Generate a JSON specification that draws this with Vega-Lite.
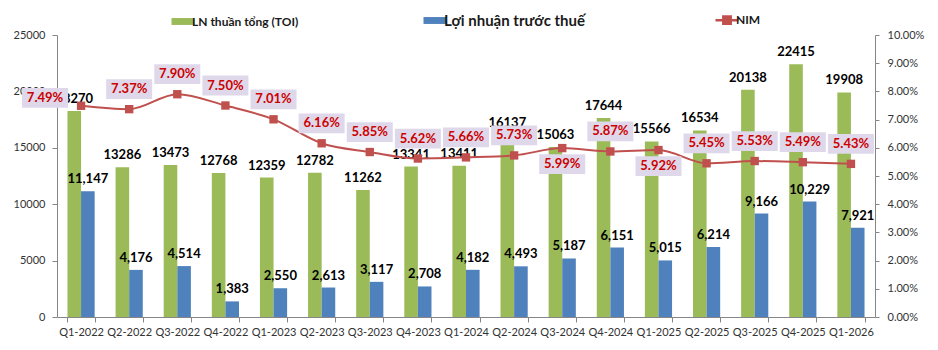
{
  "$schema": "https://vega.github.io/schema/vega-lite/v6.json",
  "width": 818,
  "height": 282,
  "autosize": {"type": "none"},
  "padding": {"left": 57, "top": 35, "right": 63, "bottom": 33},
  "background": "#ffffff",
  "data": {
    "values": [
      {"q": "Q1-2022", "toi": 18270, "pbt": 11147, "nim": 0.0749},
      {"q": "Q2-2022", "toi": 13286, "pbt": 4176, "nim": 0.0737},
      {"q": "Q3-2022", "toi": 13473, "pbt": 4514, "nim": 0.0790},
      {"q": "Q4-2022", "toi": 12768, "pbt": 1383, "nim": 0.0750},
      {"q": "Q1-2023", "toi": 12359, "pbt": 2550, "nim": 0.0701},
      {"q": "Q2-2023", "toi": 12782, "pbt": 2613, "nim": 0.0616},
      {"q": "Q3-2023", "toi": 11262, "pbt": 3117, "nim": 0.0585},
      {"q": "Q4-2023", "toi": 13341, "pbt": 2708, "nim": 0.0562},
      {"q": "Q1-2024", "toi": 13411, "pbt": 4182, "nim": 0.0566},
      {"q": "Q2-2024", "toi": 16137, "pbt": 4493, "nim": 0.0573},
      {"q": "Q3-2024", "toi": 15063, "pbt": 5187, "nim": 0.0599},
      {"q": "Q4-2024", "toi": 17644, "pbt": 6151, "nim": 0.0587},
      {"q": "Q1-2025", "toi": 15566, "pbt": 5015, "nim": 0.0592},
      {"q": "Q2-2025", "toi": 16534, "pbt": 6214, "nim": 0.0545},
      {"q": "Q3-2025", "toi": 20138, "pbt": 9166, "nim": 0.0553},
      {"q": "Q4-2025", "toi": 22415, "pbt": 10229, "nim": 0.0549},
      {"q": "Q1-2026", "toi": 19908, "pbt": 7921, "nim": 0.0543}
    ]
  },
  "encoding": {
    "x": {
      "field": "q", "type": "ordinal", "sort": null,
      "scale": {"paddingInner": 0.435, "paddingOuter": 0.2175},
      "axis": {"title": null, "labelAngle": 0, "tickBand": "extent", "tickSize": 5, "labelPadding": 4, "labelFontSize": 11}
    }
  },
  "layer": [
    {
      "transform": [{"fold": ["toi", "pbt"], "as": ["key", "value"]}],
      "encoding": {
        "y": {
          "field": "value", "type": "quantitative",
          "scale": {"domain": [0, 25000], "nice": false},
          "axis": {"title": null, "values": [0, 5000, 10000, 15000, 20000, 25000], "format": "d", "tickSize": 5, "labelPadding": 7, "labelFontSize": 11}
        },
        "xOffset": {"field": "key", "type": "nominal", "sort": ["toi", "pbt"]},
        "color": {
          "field": "key", "type": "nominal",
          "scale": {"domain": ["toi", "pbt", "nim"], "range": ["#9BBB59", "#4F81BD", "#C0504D"]},
          "legend": {
            "orient": "none", "legendX": 120, "legendY": -21, "direction": "horizontal", "title": null,
            "labelExpr": "datum.value == 'toi' ? 'LN thuần tổng (TOI)' : datum.value == 'pbt' ? 'Lợi nhuận trước thuế' : 'NIM'",
            "symbolSize": 529, "columnPadding": 124, "labelOffset": 3,
            "labelFont": "Lato", "labelFontWeight": "bold", "labelFontSize": 12, "labelColor": "#1a1a1a",
            "encode": {
              "symbols": {"update": {
                "shape": {"signal": "datum.value == 'nim' ? 'M-1,0H1M-0.32,-0.32H0.32V0.32H-0.32Z' : 'M-1,-0.3H1V0.3H-1Z'"},
                "fill": {"scale": "color", "field": "value"},
                "stroke": {"scale": "color", "field": "value"},
                "strokeWidth": {"signal": "datum.value == 'nim' ? 2.5 : 0"},
                "opacity": {"value": 1}
              }},
              "labels": {"update": {"fontSize": {"signal": "datum.value == 'pbt' ? 15 : 12"}}}
            }
          }
        }
      },
      "layer": [
        {"mark": {"type": "bar"}},
        {
          "transform": [{"filter": "datum.key == 'toi'"}],
          "mark": {"type": "text", "baseline": "alphabetic", "dy": -8, "font": "Lato", "fontWeight": "bold", "fontSize": 13},
          "encoding": {"text": {"field": "value", "type": "quantitative", "format": "d"}, "color": {"value": "#000000"}}
        },
        {
          "transform": [{"filter": "datum.key == 'pbt'"}],
          "mark": {"type": "text", "baseline": "alphabetic", "dy": -8, "font": "Lato", "fontWeight": "bold", "fontSize": 13},
          "encoding": {"text": {"field": "value", "type": "quantitative", "format": ",d"}, "color": {"value": "#000000"}}
        }
      ]
    },
    {
      "encoding": {
        "y": {
          "field": "nim", "type": "quantitative",
          "scale": {"domain": [0, 0.1], "nice": false},
          "axis": {"title": null, "orient": "right", "values": [0, 0.01, 0.02, 0.03, 0.04, 0.05, 0.06, 0.07, 0.08, 0.09, 0.1], "format": ".2%", "tickSize": 4, "labelPadding": 8, "labelFontSize": 11}
        }
      },
      "layer": [
        {"mark": {"type": "line", "interpolate": "monotone", "strokeWidth": 2}, "encoding": {"color": {"datum": "nim"}}},
        {"mark": {"type": "point", "shape": "square", "filled": true, "size": 70, "opacity": 1}, "encoding": {"color": {"datum": "nim"}}},
        {
          "transform": [{"filter": "datum.q != 'Q1-2022' && datum.q != 'Q3-2024' && datum.q != 'Q1-2025'"}],
          "mark": {"type": "point", "shape": "M-1,-0.43H1V0.43H-1Z", "size": 2116, "filled": true, "fill": "#DED8EA", "opacity": 1, "strokeWidth": 0, "yOffset": -20}
        },
        {
          "transform": [{"filter": "datum.q == 'Q3-2024' || datum.q == 'Q1-2025'"}],
          "mark": {"type": "point", "shape": "M-1,-0.43H1V0.43H-1Z", "size": 2116, "filled": true, "fill": "#DED8EA", "opacity": 1, "strokeWidth": 0, "yOffset": 16}
        },
        {
          "transform": [{"filter": "datum.q == 'Q1-2022'"}],
          "mark": {"type": "point", "shape": "M-1,-0.43H1V0.43H-1Z", "size": 2116, "filled": true, "fill": "#DED8EA", "opacity": 1, "strokeWidth": 0, "xOffset": -36, "yOffset": -8}
        },
        {
          "transform": [{"filter": "datum.q != 'Q1-2022' && datum.q != 'Q3-2024' && datum.q != 'Q1-2025'"}],
          "mark": {"type": "text", "baseline": "middle", "dy": -20, "font": "Lato", "fontWeight": "bold", "fontSize": 13, "color": "#CC0000"},
          "encoding": {"text": {"field": "nim", "type": "quantitative", "format": ".2%"}}
        },
        {
          "transform": [{"filter": "datum.q == 'Q3-2024' || datum.q == 'Q1-2025'"}],
          "mark": {"type": "text", "baseline": "middle", "dy": 16, "font": "Lato", "fontWeight": "bold", "fontSize": 13, "color": "#CC0000"},
          "encoding": {"text": {"field": "nim", "type": "quantitative", "format": ".2%"}}
        },
        {
          "transform": [{"filter": "datum.q == 'Q1-2022'"}],
          "mark": {"type": "text", "baseline": "middle", "dx": -36, "dy": -8, "font": "Lato", "fontWeight": "bold", "fontSize": 13, "color": "#CC0000"},
          "encoding": {"text": {"field": "nim", "type": "quantitative", "format": ".2%"}}
        }
      ]
    }
  ],
  "resolve": {"scale": {"y": "independent"}},
  "config": {
    "font": "Lato",
    "view": {"stroke": null},
    "axis": {"grid": false, "domainColor": "#868686", "tickColor": "#868686", "labelFont": "Lato", "labelColor": "#333333"}
  }
}
